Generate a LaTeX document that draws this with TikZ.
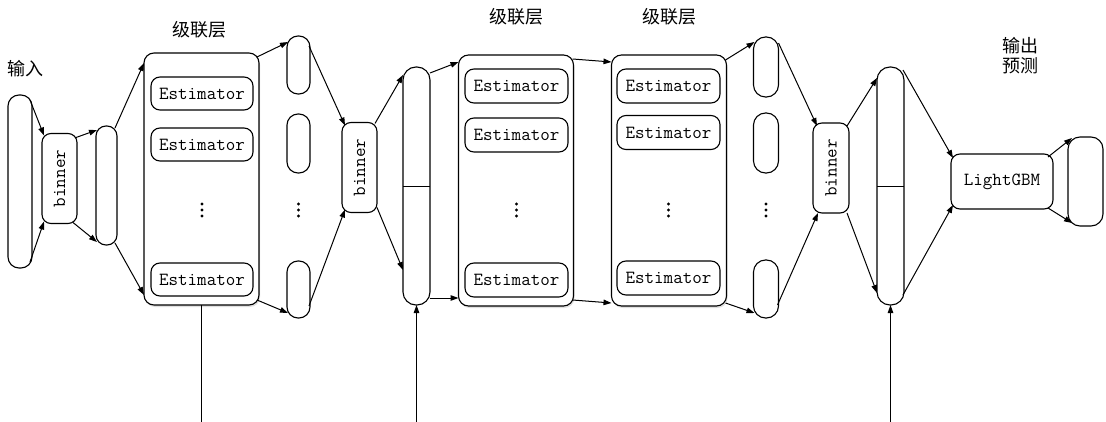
\documentclass[tikz,border=0pt]{standalone}
\usepackage{fontspec}
\newfontfamily\cjk{Noto Sans CJK SC}
\usetikzlibrary{arrows.meta,calc,shadows}
\newcommand\ttlab{\fontsize{18.5}{20}\selectfont\ttfamily}
\begin{document}
\begin{tikzpicture}[x=1pt,y=-1pt,line width=1.1pt,
  col/.style={draw, rounded corners=11pt, minimum width=23pt, inner sep=0pt, outer sep=0pt},
  scol/.style={draw, rounded corners=13pt, minimum width=27pt, minimum height=238pt, inner sep=0pt, outer sep=0pt},
  rbox/.style={draw, rounded corners=9pt, inner sep=0pt, outer sep=0pt, font=\ttlab},
  binbox/.style={rbox, minimum width=35pt, minimum height=90pt},
  layer/.style={draw, fill=white, rounded corners=10pt, inner sep=0pt, outer sep=0pt,
    minimum width=115pt, minimum height=251pt,
    drop shadow={shadow xshift=1pt, shadow yshift=-2pt, opacity=0.25}},
  est/.style={rbox, minimum width=102pt, minimum height=33pt},
  lab/.style={font=\cjk\fontsize{18}{21}\selectfont, inner sep=0pt, align=center},
  arr/.style={-{Triangle[length=8pt,width=5.5pt]}, line width=1pt},
  plain/.style={line width=1pt}]
\useasboundingbox (0,0) rectangle (1106,422);

% labels
\node[lab] (tin) at (25,69) {输入};
\node[lab] (t1) at (199.5,30) {级联层};
\node[lab] (t2) at (516,17) {级联层};
\node[lab] (t3) at (669.5,17) {级联层};
\node[lab] (tout) at (1020,56) {输出\\[-1pt]预测};

% input side
\node[col, minimum width=24pt, minimum height=173pt] (in) at (20,181.5) {};
\node[binbox] (b1) at (59.5,178.5) {};
\node[rotate=90, font=\ttlab, inner sep=0pt] (b1t) at (b1) {binner};
\node[col, minimum width=21pt, rounded corners=10pt, minimum height=119pt] (c2) at (106.5,185.5) {};

% layer 1
\node[layer, minimum height=252pt] (L1) at (201.5,179) {};
\node[est] (E11) at (202,93.5) {Estimator};
\node[est] (E12) at (202,144.5) {Estimator};
\coordinate (D1) at (202,210);
\node[est] (E14) at (202,279.5) {Estimator};

% outputs of layer 1
\node[col, minimum height=58pt] (o1a) at (298.5,65) {};
\node[col, minimum height=59pt] (o1b) at (298.5,143.5) {};
\coordinate (Do1) at (298.5,210);
\node[col, minimum height=57pt] (o1c) at (298.5,289.5) {};

\node[binbox] (b2) at (359.5,167.5) {};
\node[rotate=90, font=\ttlab, inner sep=0pt] (b2t) at (b2) {binner};

\node[scol] (s1) at (416.5,186) {};
\draw[plain] (s1.west |- 0,187) -- (s1.east |- 0,187);

% layer 2
\node[layer] (L2) at (516,180.5) {};
\node[est, minimum width=103pt, minimum height=34pt] (E21) at (516.5,86) {Estimator};
\node[est, minimum width=103pt, minimum height=34pt] (E22) at (516.5,135) {Estimator};
\coordinate (D2) at (516.5,210);
\node[est, minimum width=103pt, minimum height=34pt] (E24) at (516.5,280) {Estimator};

% layer 3
\node[layer] (L3) at (669,180.5) {};
\node[est, minimum width=103pt, minimum height=34pt] (E31) at (668.5,86) {Estimator};
\node[est, minimum width=103pt, minimum height=34pt] (E32) at (668.5,132.5) {Estimator};
\coordinate (D3) at (668.5,210);
\node[est, minimum width=103pt, minimum height=34pt] (E34) at (668.5,278) {Estimator};

% outputs of layer 3
\node[col, minimum width=25pt, rounded corners=12pt, minimum height=60pt] (o2a) at (766,67) {};
\node[col, minimum width=25pt, rounded corners=12pt, minimum height=60pt] (o2b) at (766,143) {};
\coordinate (Do2) at (766,210);
\node[col, minimum width=25pt, rounded corners=12pt, minimum height=58pt] (o2c) at (766,289) {};

% vertical ellipses
\foreach \c in {D1,Do1,D2,D3,Do2}
  \foreach \dy in {-6,0,6}
    \fill ($(\c)+(0,\dy)$) circle (1.6);

\node[binbox, minimum width=36pt] (b3) at (831,168) {};
\node[rotate=90, font=\ttlab, inner sep=0pt] (b3t) at (b3) {binner};

\node[scol] (s2) at (890.5,186) {};
\draw[plain] (s2.west |- 0,187) -- (s2.east |- 0,187);

\node[rbox, minimum width=102pt, minimum height=55pt] (lgbm) at (1002,181.5) {LightGBM};
\node[rbox, rounded corners=12pt, minimum width=35pt, minimum height=89pt] (out) at (1085.5,181.5) {};

% connectors
\draw[arr] ($(in.north east)+(-2,5)$) -- ($(b1.north west)+(2,2)$);
\draw[arr] ($(in.south east)+(-2,-6)$) -- ($(b1.south west)+(2,-2)$);
\draw[arr] ($(b1.north east)+(-1,4)$) -- ($(c2.north west)+(1,4)$);
\draw[arr] ($(b1.south east)+(-4,-1)$) -- ($(c2.south west)+(1,-3)$);
\draw[arr] ($(c2.north east)+(-2,2)$) -- ($(L1.north west)+(0,10)$);
\draw[arr] ($(c2.south east)+(-2,-2)$) -- ($(L1.south west)+(0,-10)$);
\draw[arr] ($(L1.north east)+(-2,4)$) -- ($(o1a.north west)+(1,6)$);
\draw[arr] ($(L1.south east)+(-2,-5)$) -- ($(o1c.south west)+(1,-5)$);
\draw[arr] ($(o1a.north east)+(-1,10)$) -- ($(b2.north west)+(3,3)$);
\draw[arr] ($(o1c.south east)+(-1,-12)$) -- ($(b2.south west)+(3,-3)$);
\draw[arr] ($(b2.north east)+(-2,1)$) -- ($(s1.north west)+(0,8)$);
\draw[arr] ($(b2.south east)+(0,-5)$) -- ($(s1.south west)+(0,-35)$);
\draw[arr] ($(s1.north east)+(0,6)$) -- ($(L2.north west)+(0,7)$);
\draw[arr] ($(s1.south east)+(0,-7)$) -- ($(L2.south west)+(0,-8)$);
\draw[arr] ($(L2.north east)+(-1,4)$) -- ($(L3.north west)+(0,7)$);
\draw[arr] ($(L2.south east)+(-1,-6)$) -- ($(L3.south west)+(0,-3)$);
\draw[arr] ($(L3.north east)+(-1,5)$) -- ($(o2a.north west)+(1,5)$);
\draw[arr] ($(L3.south east)+(-1,-3)$) -- ($(o2c.south west)+(1,-5)$);
\draw[arr] ($(o2a.north east)+(0,6)$) -- ($(b3.north west)+(4,3)$);
\draw[arr] ($(o2c.south east)+(-1,-13)$) -- ($(b3.south west)+(5,0)$);
\draw[arr] ($(b3.north east)+(-2,3)$) -- ($(s2.north west)+(0,11)$);
\draw[arr] ($(b3.south east)+(-2,0)$) -- ($(s2.south west)+(0,-12)$);
\draw[arr] ($(s2.north east)+(-1,3)$) -- ($(lgbm.north west)+(2,4)$);
\draw[arr] ($(s2.south east)+(-1,-10)$) -- ($(lgbm.south west)+(2,-4)$);
\draw[arr] ($(lgbm.north east)+(-5,3)$) -- ($(out.north west)+(4,1)$);
\draw[arr] ($(lgbm.south east)+(-5,-1)$) -- ($(out.south west)+(4,-3)$);

% bottom feeds
\coordinate (f1) at (201.5,422);
\coordinate (f2) at (416.5,422);
\coordinate (f3) at (890.5,422);
\draw[plain] (L1.south) -- (f1);
\draw[arr] (f2) -- (s1.south);
\draw[arr] (f3) -- (s2.south);
\end{tikzpicture}
\end{document}
